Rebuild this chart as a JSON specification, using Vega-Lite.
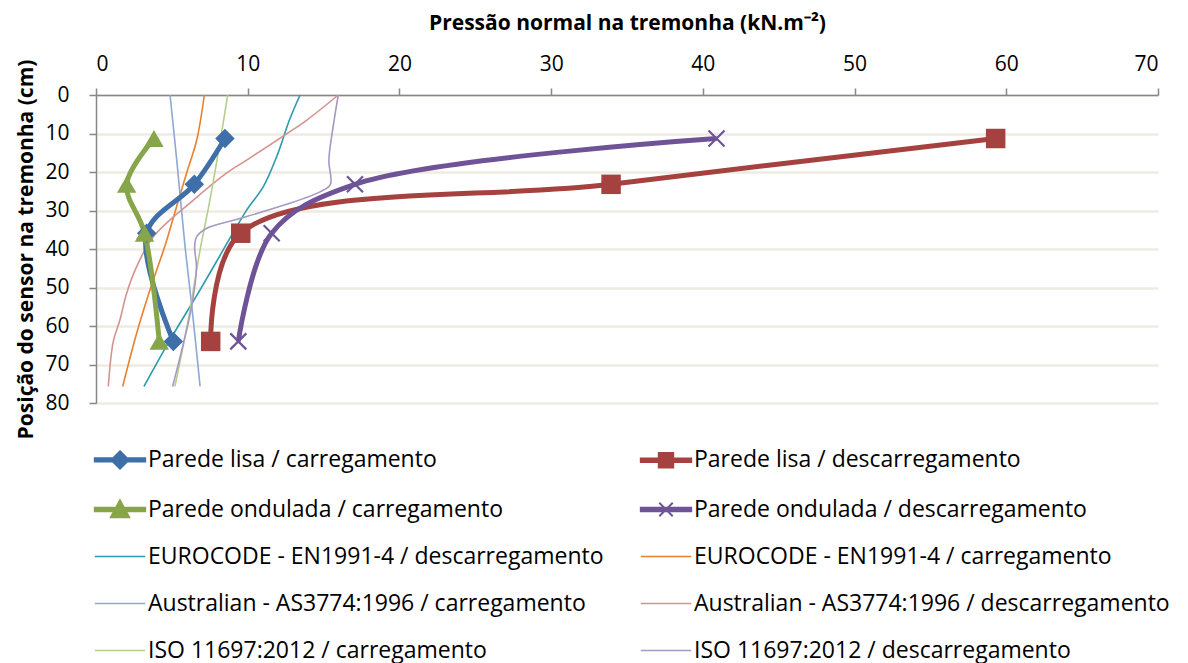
{
  "$schema": "https://vega.github.io/schema/vega-lite/v6.json",
  "width": 1062,
  "height": 308,
  "autosize": {"type": "none"},
  "padding": {"left": 96, "top": 95, "right": 30, "bottom": 260},
  "background": "white",
  "config": {
    "view": {"stroke": null},
    "font": "Open Sans",
    "axis": {
      "domainColor": "#868686",
      "domainWidth": 1.5,
      "tickColor": "#868686",
      "tickWidth": 1.5,
      "tickSize": 7,
      "labelFont": "Open Sans",
      "labelFontSize": 21,
      "labelColor": "#000000",
      "titleFont": "Open Sans",
      "titleFontSize": 21,
      "titleFontWeight": "bold",
      "titleColor": "#000000"
    }
  },
  "data": {
    "values": [
      {"s": "Parede lisa / carregamento", "o": 1, "x": 8.5, "y": 11.3},
      {"s": "Parede lisa / carregamento", "o": 2, "x": 6.48, "y": 23.2},
      {"s": "Parede lisa / carregamento", "o": 3, "x": 3.34, "y": 35.9},
      {"s": "Parede lisa / carregamento", "o": 4, "x": 5.1, "y": 64},
      {"s": "Parede lisa / descarregamento", "o": 1, "x": 59.3, "y": 11.3},
      {"s": "Parede lisa / descarregamento", "o": 2, "x": 33.95, "y": 23.2},
      {"s": "Parede lisa / descarregamento", "o": 3, "x": 9.54, "y": 35.9},
      {"s": "Parede lisa / descarregamento", "o": 4, "x": 7.56, "y": 64},
      {"s": "Parede ondulada / carregamento", "o": 1, "x": 3.82, "y": 11.3},
      {"s": "Parede ondulada / carregamento", "o": 2, "x": 2.02, "y": 23.2},
      {"s": "Parede ondulada / carregamento", "o": 3, "x": 3.2, "y": 35.9},
      {"s": "Parede ondulada / carregamento", "o": 4, "x": 4.17, "y": 64},
      {"s": "Parede ondulada / descarregamento", "o": 1, "x": 40.9, "y": 11.3},
      {"s": "Parede ondulada / descarregamento", "o": 2, "x": 17.07, "y": 23.2},
      {"s": "Parede ondulada / descarregamento", "o": 3, "x": 11.58, "y": 35.9},
      {"s": "Parede ondulada / descarregamento", "o": 4, "x": 9.38, "y": 64},
      {"s": "EUROCODE - EN1991-4 / descarregamento", "o": 1, "x": 13.45, "y": 0},
      {"s": "EUROCODE - EN1991-4 / descarregamento", "o": 2, "x": 12.75, "y": 6.5},
      {"s": "EUROCODE - EN1991-4 / descarregamento", "o": 3, "x": 11.91, "y": 16},
      {"s": "EUROCODE - EN1991-4 / descarregamento", "o": 4, "x": 11.03, "y": 23.8},
      {"s": "EUROCODE - EN1991-4 / descarregamento", "o": 5, "x": 9.93, "y": 29.9},
      {"s": "EUROCODE - EN1991-4 / descarregamento", "o": 6, "x": 8.83, "y": 37.2},
      {"s": "EUROCODE - EN1991-4 / descarregamento", "o": 7, "x": 6.86, "y": 50.6},
      {"s": "EUROCODE - EN1991-4 / descarregamento", "o": 8, "x": 4.88, "y": 63.6},
      {"s": "EUROCODE - EN1991-4 / descarregamento", "o": 9, "x": 3.16, "y": 75.7},
      {"s": "EUROCODE - EN1991-4 / carregamento", "o": 1, "x": 7.14, "y": 0},
      {"s": "EUROCODE - EN1991-4 / carregamento", "o": 2, "x": 6.64, "y": 11.7},
      {"s": "EUROCODE - EN1991-4 / carregamento", "o": 3, "x": 5.97, "y": 20.3},
      {"s": "EUROCODE - EN1991-4 / carregamento", "o": 4, "x": 5.31, "y": 29},
      {"s": "EUROCODE - EN1991-4 / carregamento", "o": 5, "x": 4.6, "y": 38.5},
      {"s": "EUROCODE - EN1991-4 / carregamento", "o": 6, "x": 3.56, "y": 50.6},
      {"s": "EUROCODE - EN1991-4 / carregamento", "o": 7, "x": 2.68, "y": 61.9},
      {"s": "EUROCODE - EN1991-4 / carregamento", "o": 8, "x": 1.76, "y": 75.7},
      {"s": "Australian - AS3774:1996 / carregamento", "o": 1, "x": 4.88, "y": 0},
      {"s": "Australian - AS3774:1996 / carregamento", "o": 2, "x": 5.35, "y": 18},
      {"s": "Australian - AS3774:1996 / carregamento", "o": 3, "x": 5.87, "y": 39.4},
      {"s": "Australian - AS3774:1996 / carregamento", "o": 4, "x": 6.4, "y": 58},
      {"s": "Australian - AS3774:1996 / carregamento", "o": 5, "x": 6.86, "y": 75.7},
      {"s": "Australian - AS3774:1996 / descarregamento", "o": 1, "x": 15.97, "y": 0},
      {"s": "Australian - AS3774:1996 / descarregamento", "o": 2, "x": 13.9, "y": 6.5},
      {"s": "Australian - AS3774:1996 / descarregamento", "o": 3, "x": 12.6, "y": 10},
      {"s": "Australian - AS3774:1996 / descarregamento", "o": 4, "x": 9.93, "y": 16.9},
      {"s": "Australian - AS3774:1996 / descarregamento", "o": 5, "x": 8.6, "y": 20.3},
      {"s": "Australian - AS3774:1996 / descarregamento", "o": 6, "x": 6.42, "y": 27.3},
      {"s": "Australian - AS3774:1996 / descarregamento", "o": 7, "x": 3.78, "y": 36.8},
      {"s": "Australian - AS3774:1996 / descarregamento", "o": 8, "x": 2.68, "y": 44.6},
      {"s": "Australian - AS3774:1996 / descarregamento", "o": 9, "x": 2.02, "y": 51.5},
      {"s": "Australian - AS3774:1996 / descarregamento", "o": 10, "x": 1.58, "y": 58.4},
      {"s": "Australian - AS3774:1996 / descarregamento", "o": 11, "x": 1.14, "y": 64},
      {"s": "Australian - AS3774:1996 / descarregamento", "o": 12, "x": 0.81, "y": 75.7},
      {"s": "ISO 11697:2012 / carregamento", "o": 1, "x": 8.68, "y": 0},
      {"s": "ISO 11697:2012 / carregamento", "o": 2, "x": 8.1, "y": 14},
      {"s": "ISO 11697:2012 / carregamento", "o": 3, "x": 7.51, "y": 27.3},
      {"s": "ISO 11697:2012 / carregamento", "o": 4, "x": 6.86, "y": 40.3},
      {"s": "ISO 11697:2012 / carregamento", "o": 5, "x": 6.1, "y": 58},
      {"s": "ISO 11697:2012 / carregamento", "o": 6, "x": 5.2, "y": 75.7},
      {"s": "ISO 11697:2012 / descarregamento", "o": 1, "x": 15.97, "y": 0},
      {"s": "ISO 11697:2012 / descarregamento", "o": 2, "x": 15.68, "y": 7},
      {"s": "ISO 11697:2012 / descarregamento", "o": 3, "x": 15.35, "y": 16.9},
      {"s": "ISO 11697:2012 / descarregamento", "o": 4, "x": 15.45, "y": 23.2},
      {"s": "ISO 11697:2012 / descarregamento", "o": 5, "x": 14.8, "y": 25.1},
      {"s": "ISO 11697:2012 / descarregamento", "o": 6, "x": 12.4, "y": 28.6},
      {"s": "ISO 11697:2012 / descarregamento", "o": 7, "x": 9.2, "y": 32.4},
      {"s": "ISO 11697:2012 / descarregamento", "o": 8, "x": 7.3, "y": 34.6},
      {"s": "ISO 11697:2012 / descarregamento", "o": 9, "x": 6.64, "y": 36.8},
      {"s": "ISO 11697:2012 / descarregamento", "o": 10, "x": 6.5, "y": 39.5},
      {"s": "ISO 11697:2012 / descarregamento", "o": 11, "x": 6.62, "y": 44.6},
      {"s": "ISO 11697:2012 / descarregamento", "o": 12, "x": 6.3, "y": 55},
      {"s": "ISO 11697:2012 / descarregamento", "o": 13, "x": 5.76, "y": 64.5},
      {"s": "ISO 11697:2012 / descarregamento", "o": 14, "x": 5.05, "y": 75.7}
    ]
  },
  "encoding": {
    "x": {
      "field": "x",
      "type": "quantitative",
      "scale": {"domain": [0, 70], "nice": false},
      "axis": {
        "orient": "top",
        "values": [0, 10, 20, 30, 40, 50, 60, 70],
        "grid": false,
        "labelPadding": 14,
        "title": "Pressão normal na tremonha (kN.m⁻²)",
        "titlePadding": 20
      }
    },
    "y": {
      "field": "y",
      "type": "quantitative",
      "scale": {"domain": [0, 80], "reverse": true, "nice": false},
      "axis": {
        "values": [0, 10, 20, 30, 40, 50, 60, 70, 80],
        "grid": true,
        "gridColor": "#EEEBE0",
        "gridWidth": 2.5,
        "labelPadding": 20,
        "title": "Posição do sensor na tremonha (cm)",
        "titlePadding": 8
      }
    },
    "color": {
      "field": "s",
      "type": "nominal",
      "scale": {
        "domain": [
          "Parede lisa / carregamento",
          "Parede ondulada / carregamento",
          "EUROCODE - EN1991-4 / descarregamento",
          "Australian - AS3774:1996 / carregamento",
          "ISO 11697:2012 / carregamento",
          "Parede lisa / descarregamento",
          "Parede ondulada / descarregamento",
          "EUROCODE - EN1991-4 / carregamento",
          "Australian - AS3774:1996 / descarregamento",
          "ISO 11697:2012 / descarregamento"
        ],
        "range": ["#3F6FA8", "#87A54A", "#2C9AAE", "#8DA8D5", "#B4CF8D", "#A5423F", "#6E5497", "#E8812F", "#D5938F", "#A797C3"]
      },
      "legend": {
        "orient": "none",
        "legendX": -1,
        "legendY": 353,
        "columns": 2,
        "columnPadding": 32,
        "rowPadding": 23,
        "title": null,
        "symbolSize": 2300,
        "labelFont": "Open Sans",
        "labelFontSize": 23,
        "labelColor": "#000000",
        "labelOffset": 30,
        "labelLimit": 700,
        "encode": {
          "symbols": {
            "update": {
              "x": {"value": 25},
              "shape": {"signal": "datum.value === 'Parede lisa / carregamento' ? 'M-1.05,-0.07H1.05V0.07H-1.05Z M0,-0.36L0.36,0L0,0.36L-0.36,0Z' : datum.value === 'Parede lisa / descarregamento' ? 'M-1.05,-0.07H1.05V0.07H-1.05Z M-0.3,-0.3H0.3V0.3H-0.3Z' : datum.value === 'Parede ondulada / carregamento' ? 'M-1.05,-0.07H1.05V0.07H-1.05Z M0,-0.38L0.38,0.32H-0.38Z' : datum.value === 'Parede ondulada / descarregamento' ? 'M-1.05,-0.07H1.05V0.07H-1.05Z M-0.28,-0.28L0.28,0.28M-0.28,0.28L0.28,-0.28' : 'M-1.05,0H1.05'"},
              "strokeWidth": {"signal": "substring(datum.value, 0, 6) === 'Parede' ? 2 : 1.6"}
            }
          }
        }
      }
    },
    "order": {"field": "o", "type": "quantitative"}
  },
  "layer": [
    {
      "transform": [{"filter": {"not": {"field": "s", "oneOf": ["Parede lisa / carregamento", "Parede lisa / descarregamento", "Parede ondulada / carregamento", "Parede ondulada / descarregamento"]}}}],
      "mark": {"type": "line", "interpolate": "catmull-rom", "strokeWidth": 1.6}
    },
    {
      "transform": [{"filter": {"field": "s", "oneOf": ["Parede lisa / carregamento", "Parede lisa / descarregamento", "Parede ondulada / carregamento", "Parede ondulada / descarregamento"]}}],
      "mark": {"type": "line", "interpolate": "catmull-rom", "strokeWidth": 5}
    },
    {
      "transform": [{"filter": {"field": "s", "oneOf": ["Parede lisa / carregamento", "Parede lisa / descarregamento", "Parede ondulada / carregamento"]}}],
      "mark": {"type": "point", "filled": true, "opacity": 1, "size": 380},
      "encoding": {
        "shape": {
          "field": "s",
          "type": "nominal",
          "scale": {"domain": ["Parede lisa / carregamento", "Parede lisa / descarregamento", "Parede ondulada / carregamento"], "range": ["diamond", "square", "triangle-up"]},
          "legend": null
        }
      }
    },
    {
      "transform": [{"filter": {"field": "s", "equal": "Parede ondulada / descarregamento"}}],
      "mark": {"type": "point", "filled": false, "opacity": 1, "strokeWidth": 2.2, "size": 256, "shape": "M-1,-1L1,1M-1,1L1,-1"}
    }
  ]
}
